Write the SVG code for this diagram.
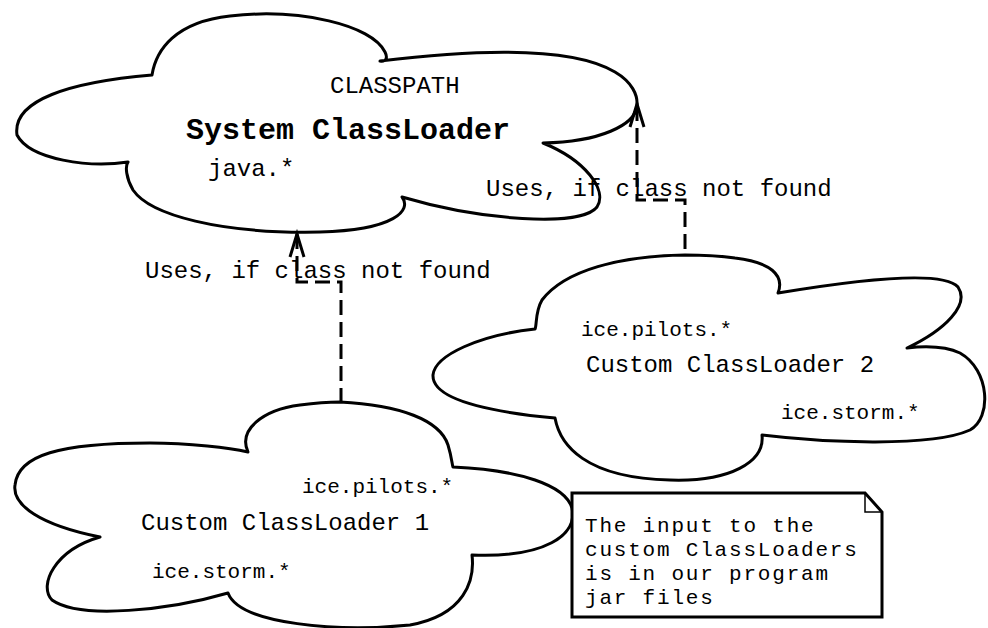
<svg xmlns="http://www.w3.org/2000/svg" width="988" height="628" viewBox="0 0 988 628">
  <style>
    .cloud { fill: #ffffff; stroke: #000000; stroke-width: 3; stroke-linejoin: round; }
    .t { font-family: "Liberation Mono", "Courier New", monospace; font-size: 24px; fill: #000000; }
    .pkg { font-size: 21px; }
    .title { font-size: 30px; font-weight: bold; }
    .memo { font-size: 21px; letter-spacing: 1.8px; }
    .dash { fill: none; stroke: #000000; stroke-width: 3; stroke-dasharray: 15 7; }
    .head { fill: none; stroke: #000000; stroke-width: 3; stroke-linejoin: miter; }
    .note { fill: #ffffff; stroke: #000000; stroke-width: 3; }
    .fold { fill: none; stroke: #000000; stroke-width: 1.5; }
  </style>

  <!-- System class loader cloud -->
  <g id="system-classloader">
    <path class="cloud" d="M128,162 C90,168 30,160 17,135 C12,100 70,82 152,75
      C156,50 175,22 230,16 C300,8 372,25 385,52 C388,58 386,62 380,61
      C470,50 570,45 615,72 C632,82 638,95 637,106 C635,125 600,142 543,143
      C585,160 608,190 597,207 C580,228 480,220 402,197
      C412,210 395,230 320,232 C220,234 150,215 133,190 C126,178 125,166 128,162 Z"/>
    <text class="t" x="330" y="93">CLASSPATH</text>
    <text class="t title" x="186" y="139">System ClassLoader</text>
    <text class="t" x="208" y="176">java.*</text>
  </g>

  <!-- Custom class loader 2 cloud -->
  <g id="custom-classloader-2">
    <path class="cloud" d="M685,255 C620,256 565,270 542,300 C535,312 537,325 535,329
      C480,335 435,355 433,375 C432,395 470,410 555,418
      C560,445 585,478 670,480 C730,482 765,462 762,435
      C820,442 930,448 970,430 C992,418 990,370 960,353 C945,346 925,346 907,348
      C945,330 970,305 958,287 C945,272 880,276 778,293
      C785,275 770,262 735,258 C715,255 700,255 685,255 Z"/>
    <text class="t pkg" x="581" y="336">ice.pilots.*</text>
    <text class="t" x="586" y="372">Custom ClassLoader 2</text>
    <text class="t pkg" x="781" y="419">ice.storm.*</text>
  </g>

  <!-- Custom class loader 1 cloud -->
  <g id="custom-classloader-1">
    <path class="cloud" d="M340,402 C400,405 440,420 448,445 C452,458 452,465 453,467
      C520,470 565,485 572,508 C578,535 545,558 472,555
      C475,580 465,615 410,625 C340,632 240,625 228,593
      C170,610 80,620 52,600 C38,585 55,550 100,537
      C40,525 12,505 15,485 C18,455 60,443 150,443 C190,443 230,448 248,452
      C238,430 262,410 300,405 C315,403 330,402 340,402 Z"/>
    <text class="t pkg" x="302" y="493">ice.pilots.*</text>
    <text class="t" x="141" y="530">Custom ClassLoader 1</text>
    <text class="t pkg" x="152" y="578">ice.storm.*</text>
  </g>

  <!-- Note attached to the custom loaders -->
  <g id="note">
    <path class="note" d="M572,493 L865,493 L882,512 L882,617 L572,617 Z"/>
    <path class="fold" d="M865,493 L865,512 L882,512"/>
    <text class="t memo" x="585" y="532">The input to the</text>
    <text class="t memo" x="585" y="556">custom ClassLoaders</text>
    <text class="t memo" x="585" y="580">is in our program</text>
    <text class="t memo" x="585" y="604">jar files</text>
  </g>

  <!-- Delegation connectors -->
  <g id="connectors">
    <path class="dash" d="M297,234 L297,282 L341,282 L341,403"/>
    <path class="head" d="M290,257 L297,234 L304,257"/>
    <text class="t" x="145" y="278">Uses, if class not found</text>

    <path class="dash" d="M637,106 L637,200 L685,200 L685,255"/>
    <path class="head" d="M630,127 L637,104 L644,127"/>
    <text class="t" x="486" y="196">Uses, if class not found</text>
  </g>
</svg>
